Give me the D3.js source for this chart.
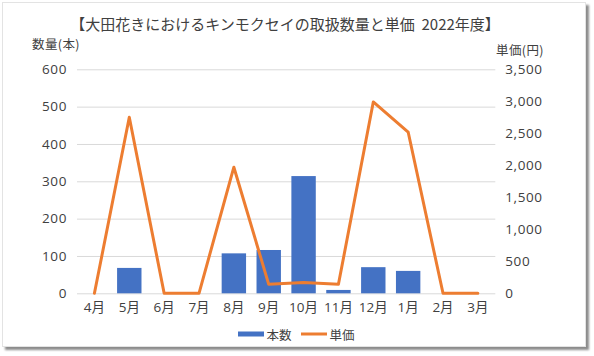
<!DOCTYPE html>
<html><head><meta charset="utf-8">
<script src="https://cdn.jsdelivr.net/npm/d3@7"></script>
<style>
html,body{margin:0;padding:0;background:#fff;}
svg{display:block;}
text{font-family:"Open Sans","Noto Sans CJK JP",sans-serif;fill:#404040;}
.cjk{font-family:"Noto Sans CJK JP","Open Sans",sans-serif;}
</style></head>
<body><div id="chart"></div>
<script>
const title = "【大田花きにおけるキンモクセイの取扱数量と単価 2022年度】";
const months = ["4月","5月","6月","7月","8月","9月","10月","11月","12月","1月","2月","3月"];
const quantity = [0, 68, 0, 0, 107, 116, 314, 9, 70, 60, 0, 0];
const price = [0, 2750, 0, 0, 1970, 140, 170, 140, 2990, 2520, 0, 0];
const leftTicks = [0, 100, 200, 300, 400, 500, 600];
const rightTicks = [0, 500, 1000, 1500, 2000, 2500, 3000, 3500];
const seriesNames = ["本数", "単価"];
const colors = ["#4472C4", "#ED7D31"];

const W = 594, H = 356;
const svg = d3.select("#chart").append("svg").attr("width", W).attr("height", H);

const defs = svg.append("defs");
const f = defs.append("filter").attr("id","sh").attr("x","-5%").attr("y","-5%").attr("width","115%").attr("height","115%");
f.append("feDropShadow").attr("dx",3).attr("dy",3).attr("stdDeviation",1.3).attr("flood-color","#000").attr("flood-opacity",0.45);

svg.append("rect").attr("x",2.5).attr("y",2.5).attr("width",583).attr("height",344)
  .attr("fill","#fff").attr("stroke","#e3e3e3").attr("stroke-width",1).attr("filter","url(#sh)");

const pL = 77, pR = 495.3, pT = 69.3, pB = 293.3;
const x = d3.scaleBand().domain(months).range([pL, pR]).paddingInner(0.3).paddingOuter(0.15);
const yL = d3.scaleLinear().domain([0, 600]).range([pB, pT]);
const yR = d3.scaleLinear().domain([0, 3500]).range([pB, pT]);

// grid
const grid = svg.append("g").attr("transform", `translate(${pL},0)`)
  .call(d3.axisLeft(yL).tickValues(leftTicks).tickSize(-(pR-pL)).tickFormat(""));
grid.select(".domain").remove();
grid.selectAll("line").attr("stroke","#d9d9d9").attr("stroke-width",1);

// left axis labels
const ax = svg.append("g").attr("transform", `translate(${pL},0)`)
  .call(d3.axisLeft(yL).tickValues(leftTicks).tickSize(0).tickPadding(10));
ax.select(".domain").remove();
ax.selectAll("text").attr("font-size",13.5).attr("letter-spacing",0.6).attr("fill","#3a3a3a")
  .attr("font-family",'"Open Sans",sans-serif');

// right axis labels
const ar = svg.append("g").attr("transform", `translate(${pR},0)`)
  .call(d3.axisRight(yR).tickValues(rightTicks).tickSize(0).tickPadding(10).tickFormat(d3.format(",")));
ar.select(".domain").remove();
ar.selectAll("text").attr("font-size",13.5).attr("letter-spacing",0.6).attr("fill","#3a3a3a")
  .attr("font-family",'"Open Sans",sans-serif');

// x axis labels
const axb = svg.append("g").attr("transform", `translate(0,${pB})`)
  .call(d3.axisBottom(x).tickSize(0).tickPadding(9));
axb.select(".domain").remove();
axb.selectAll("text").attr("font-size",13.5).attr("fill","#3a3a3a")
  .attr("font-family",'"Open Sans","Noto Sans CJK JP",sans-serif');

// bars
svg.append("g").selectAll("rect").data(quantity).join("rect")
  .attr("x",(d,i)=>x(months[i])).attr("width",x.bandwidth())
  .attr("y",d=>yL(d)).attr("height",d=>yL(0)-yL(d)).attr("fill",colors[0]);

// line
const line = d3.line().x((d,i)=>x(months[i])+x.bandwidth()/2).y(d=>yR(d));
svg.append("path").datum(price).attr("d",line).attr("fill","none")
  .attr("stroke",colors[1]).attr("stroke-width",3).attr("stroke-linejoin","round").attr("stroke-linecap","round");

// title
svg.append("text").attr("class","cjk").attr("x",285).attr("y",23.5).attr("text-anchor","middle")
  .attr("dominant-baseline","central").attr("font-size",15).attr("fill","#262626")
  .style("white-space","pre").text(title.replace(" ", "\u00A0\u00A0"));

// axis titles
svg.append("text").attr("class","cjk").attr("x",32).attr("y",43).attr("dominant-baseline","central")
  .attr("font-size",12.5).attr("letter-spacing",0.4).attr("fill","#3a3a3a").text("数量(本)");
svg.append("text").attr("class","cjk").attr("x",544).attr("y",49).attr("text-anchor","end").attr("dominant-baseline","central")
  .attr("font-size",12.5).attr("letter-spacing",0.4).attr("fill","#3a3a3a").text("単価(円)");

// legend
const lg = svg.append("g");
lg.append("rect").attr("x",238).attr("y",331.5).attr("width",26).attr("height",5).attr("fill",colors[0]);
lg.append("text").attr("class","cjk").attr("x",266.5).attr("y",334).attr("dominant-baseline","central")
  .attr("font-size",12.5).attr("fill","#3a3a3a").text(seriesNames[0]);
lg.append("line").attr("x1",301).attr("x2",327).attr("y1",334).attr("y2",334)
  .attr("stroke",colors[1]).attr("stroke-width",3);
lg.append("text").attr("class","cjk").attr("x",329.5).attr("y",334).attr("dominant-baseline","central")
  .attr("font-size",12.5).attr("fill","#3a3a3a").text(seriesNames[1]);
</script></body></html>
